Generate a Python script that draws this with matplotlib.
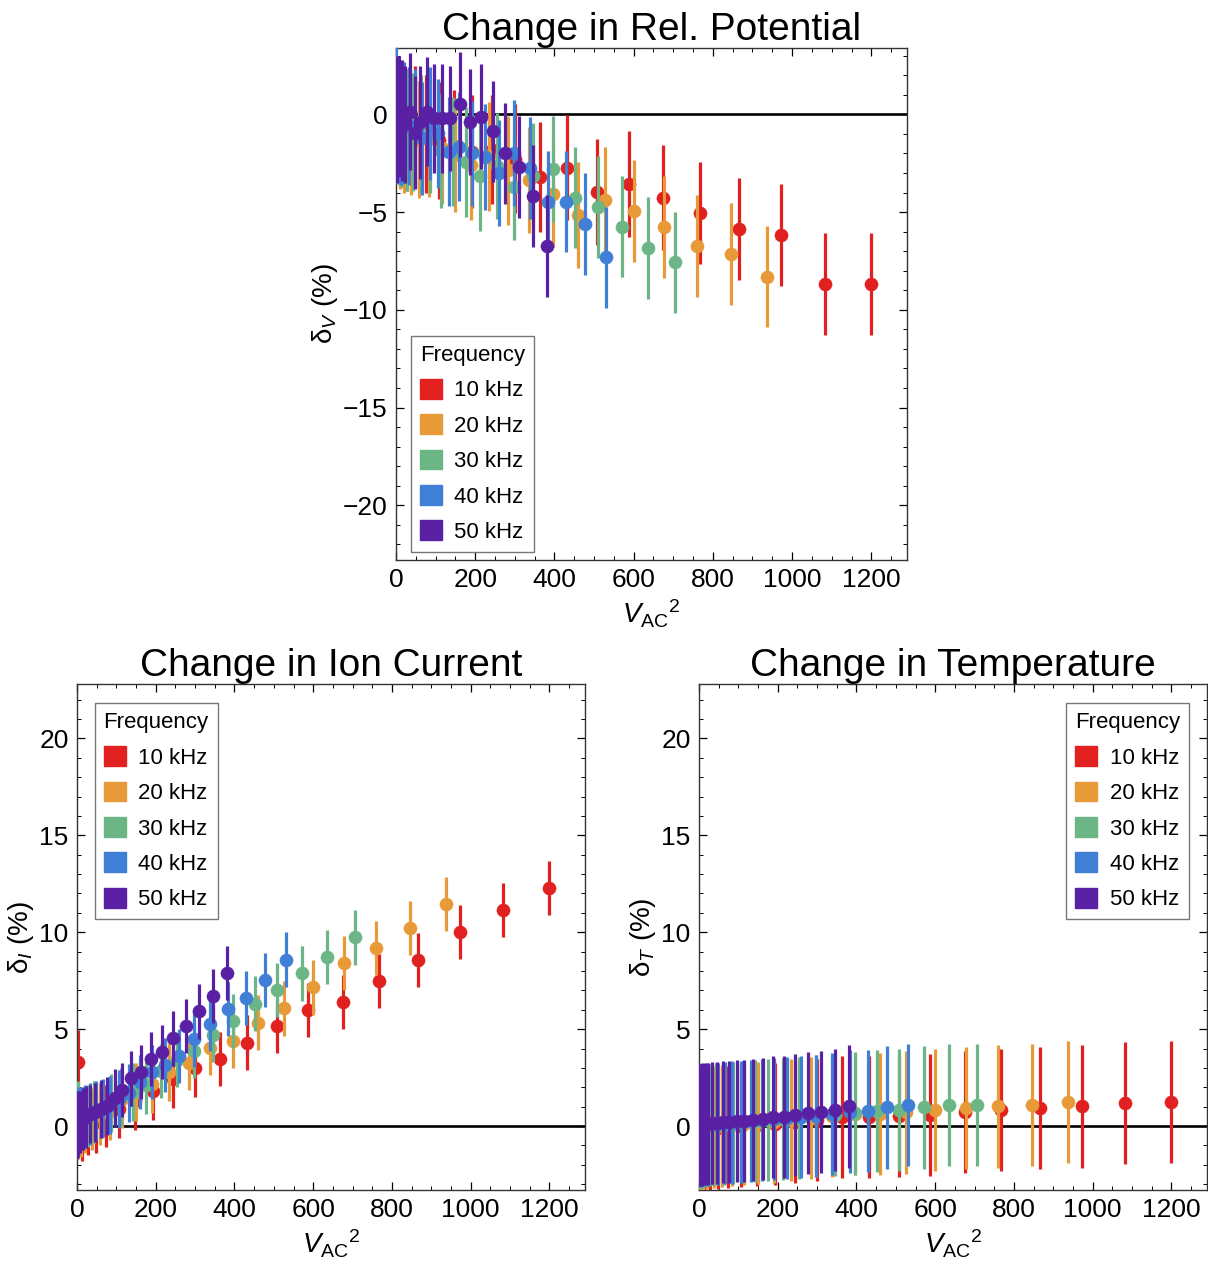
import matplotlib
matplotlib.use('Agg')
import matplotlib.pyplot as plt
from matplotlib.patches import Patch
from matplotlib.ticker import MultipleLocator
import numpy as np

plt.rcParams['font.family'] = ['Liberation Sans', 'DejaVu Sans']
plt.rcParams['mathtext.fontset'] = 'custom'
plt.rcParams['mathtext.rm'] = 'Liberation Sans'
plt.rcParams['mathtext.it'] = 'Liberation Sans:italic'

freqs = ['10 kHz', '20 kHz', '30 kHz', '40 kHz', '50 kHz']
colors = ['#e0211f', '#e89a38', '#6cb685', '#3f7fd5', '#5a20a4']

# V_AC^2 values for each frequency
x_10 = [3, 12, 27, 48, 75, 108, 147, 192, 243, 300, 363, 432, 507, 588, 675, 768, 867, 972, 1083, 1200]
x_20 = [2.3, 9.4, 21, 37.5, 59, 84, 115, 150, 190, 234, 284, 337, 396, 459, 527, 600, 677, 759, 846, 937]
x_30 = [1.8, 7, 16, 28, 44, 63, 86, 113, 143, 176, 213, 254, 298, 345, 397, 451, 509, 571, 636, 705]
x_40 = [1.3, 5.3, 12, 21, 33, 48, 65, 85, 107, 133, 160, 191, 224, 260, 298, 339, 383, 429, 478, 530]
x_50 = [0.96, 3.8, 8.6, 15.3, 23.9, 34.4, 46.8, 61.1, 77.4, 95.5, 115.6, 137.5, 161.4, 187.2, 214.9, 244.5, 276, 309.4, 344.8, 382]

# change in relative potential (%)
dv_10 = [-0.2, -0.5, -0.8, -0.6, -1.0, -1.32, -1.64, -1.9, -1.81, -2.27, -3.2, -2.72, -3.97, -3.56, -4.26, -5.06, -5.86, -6.17, -8.68, -8.68]
dv_20 = [-0.3, -0.6, -0.9, -1.0, -1.3, -1.25, -1.7, -2.1, -2.58, -2.15, -2.87, -3.35, -4.07, -5.14, -4.38, -4.96, -5.76, -6.72, -7.13, -8.3]
dv_30 = [-0.2, -0.4, -0.6, -0.8, -0.9, -1.0, -1.1, -1.87, -1.9, -2.43, -3.16, -2.65, -3.74, -3.13, -2.79, -4.26, -4.75, -5.74, -6.84, -7.57]
dv_40 = [0.4, -0.3, -0.5, -0.4, -0.6, -0.7, -1.23, -0.46, -0.97, -1.9, -1.65, -2.0, -2.17, -3.0, -1.98, -2.75, -4.46, -4.46, -5.6, -7.32]
dv_50 = [-0.2, -0.3, -0.1, -0.3, -0.5, 0.14, -0.94, -0.41, 0.14, -0.2, -0.2, -0.2, 0.51, -0.38, -0.12, -0.87, -2.0, -2.7, -4.19, -6.72]
dv_err = [3.2, 3.2, 3.1, 3.1, 3.0, 3.0, 2.9, 2.9, 2.8, 2.8, 2.8, 2.7, 2.7, 2.7, 2.7, 2.6, 2.6, 2.6, 2.6, 2.6]

# change in ion current (%)
di_10 = [3.28, -0.1, 0.1, 0.22, 0.5, 0.88, 1.3, 1.79, 2.42, 2.99, 3.45, 4.31, 5.15, 5.98, 6.39, 7.47, 8.56, 10.0, 11.13, 12.27]
di_20 = [0.0, 0.1, 0.2, 0.35, 0.6, 0.8, 1.39, 1.74, 2.15, 2.8, 3.25, 4.05, 4.4, 5.34, 6.07, 7.15, 8.4, 9.2, 10.2, 11.44]
di_30 = [0.6, 0.3, 0.4, 0.5, 0.7, 0.9, 1.2, 1.5, 1.77, 2.1, 2.85, 3.4, 3.87, 4.69, 5.43, 6.32, 7.01, 7.87, 8.73, 9.73]
di_40 = [0.2, 0.3, 0.4, 0.5, 0.6, 0.8, 0.95, 1.1, 1.4, 1.72, 2.28, 2.77, 3.14, 3.62, 4.47, 5.29, 6.03, 6.61, 7.54, 8.59]
di_50 = [0.0, 0.1, 0.2, 0.35, 0.45, 0.6, 0.7, 0.88, 1.02, 1.43, 1.87, 2.46, 2.77, 3.45, 3.83, 4.52, 5.15, 5.91, 6.72, 7.89]
di_err = [1.7, 1.7, 1.6, 1.6, 1.6, 1.5, 1.5, 1.5, 1.5, 1.5, 1.4, 1.4, 1.4, 1.4, 1.4, 1.4, 1.4, 1.4, 1.4, 1.4]

# change in temperature (%)
dt_10 = [-0.25, -0.2, -0.15, -0.1, -0.05, 0.0, 0.05, 0.1, 0.2, 0.29, 0.45, 0.48, 0.53, 0.58, 0.74, 0.84, 0.94, 1.01, 1.17, 1.22]
dt_20 = [-0.2, -0.15, -0.1, -0.05, 0.0, 0.05, 0.1, 0.15, 0.2, 0.3, 0.4, 0.5, 0.6, 0.62, 0.7, 0.82, 0.95, 1.01, 1.08, 1.22]
dt_30 = [-0.1, -0.05, 0.0, 0.05, 0.1, 0.12, 0.15, 0.2, 0.25, 0.3, 0.35, 0.4, 0.5, 0.55, 0.65, 0.77, 0.82, 0.96, 1.08, 1.08]
dt_40 = [0.0, 0.02, 0.05, 0.08, 0.1, 0.12, 0.15, 0.18, 0.22, 0.26, 0.3, 0.35, 0.4, 0.45, 0.53, 0.62, 0.75, 0.79, 0.96, 1.08]
dt_50 = [0.05, 0.06, 0.08, 0.1, 0.12, 0.14, 0.17, 0.2, 0.22, 0.24, 0.27, 0.32, 0.36, 0.45, 0.48, 0.57, 0.67, 0.74, 0.82, 1.01]
dt_err = [3.15] * 20

xs = [x_10, x_20, x_30, x_40, x_50]


def draw_panel(ax, ys, err, title, ylabel, ylim, yticks, legend_anchor, legend_loc):
    ax.axhline(0, color='black', lw=1.9, zorder=1)
    for i, (x, y) in enumerate(zip(xs, ys)):
        ax.errorbar(x, y, yerr=err, fmt='o', color=colors[i], ms=9.5,
                    mec=colors[i], mew=0.3, elinewidth=2.3, capsize=0, zorder=2 + i)
    ax.set_xlim(0, 1290)
    ax.set_ylim(*ylim)
    ax.set_xticks([0, 200, 400, 600, 800, 1000, 1200])
    ax.set_yticks(yticks)
    ax.xaxis.set_minor_locator(MultipleLocator(50))
    ax.yaxis.set_minor_locator(MultipleLocator(1))
    ax.tick_params(which='both', direction='in', top=True, right=True, labelsize=19, pad=6)
    ax.tick_params(which='major', length=6, width=0.9)
    ax.tick_params(which='minor', length=3, width=0.7)
    for s in ax.spines.values():
        s.set_linewidth(1.0)
        s.set_color('#333333')
    ax.set_title(title, fontsize=28, pad=0)
    ax.set_xlabel(r'$V_{\mathrm{AC}}{}^{2}$', fontsize=20, labelpad=4)
    ax.set_ylabel(ylabel, fontsize=20, labelpad=2)

    handles = [Patch(facecolor=c, edgecolor=c) for c in colors]
    leg = ax.legend(handles, freqs, title='Frequency', loc=legend_loc,
                    bbox_to_anchor=legend_anchor, fontsize=16, title_fontsize=16,
                    handlelength=1.0, handleheight=1.0, handletextpad=0.55,
                    labelspacing=0.58, borderpad=0.4, borderaxespad=0,
                    fancybox=False, framealpha=1, edgecolor='#777777',
                    alignment='left')
    leg.get_frame().set_linewidth(1.0)


fig = plt.figure(figsize=(12.08, 12.68), dpi=100, facecolor='white')

ax_v = fig.add_axes([0.3278, 0.5584, 0.423, 0.4038])
ax_i = fig.add_axes([0.0637, 0.0615, 0.4205, 0.399])
ax_t = fig.add_axes([0.5786, 0.0615, 0.4205, 0.399])

draw_panel(ax_v, [dv_10, dv_20, dv_30, dv_40, dv_50], dv_err,
           'Change in Rel. Potential', 'δ$_{V}$ (%)', (-22.8, 3.4),
           [0, -5, -10, -15, -20], (0.029, 0.4375), 'upper left')
draw_panel(ax_i, [di_10, di_20, di_30, di_40, di_50], di_err,
           'Change in Ion Current', 'δ$_{I}$ (%)', (-3.3, 22.8),
           [0, 5, 10, 15, 20], (0.035, 0.962), 'upper left')
draw_panel(ax_t, [dt_10, dt_20, dt_30, dt_40, dt_50], dt_err,
           'Change in Temperature', 'δ$_{T}$ (%)', (-3.3, 22.8),
           [0, 5, 10, 15, 20], (0.965, 0.962), 'upper right')

fig.savefig('out.png', dpi=100, facecolor='white')
plt.close(fig)
